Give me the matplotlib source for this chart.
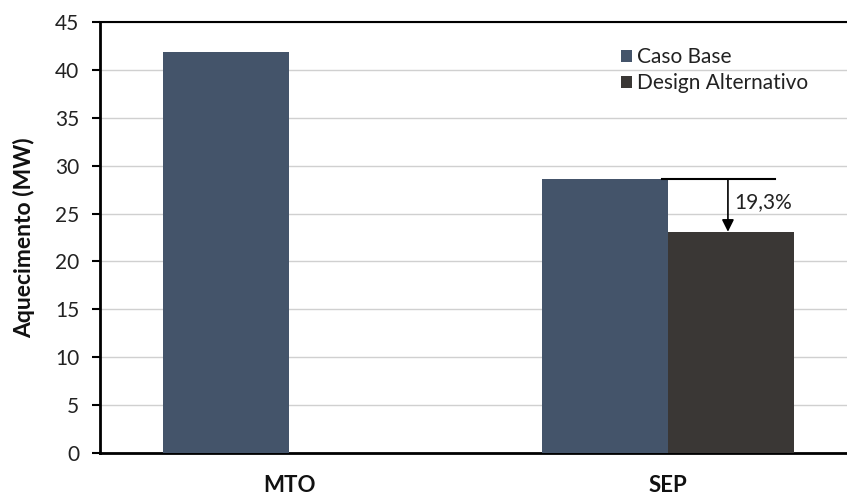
import matplotlib
matplotlib.use("Agg")
import matplotlib.pyplot as plt
import numpy as np

categories = ["MTO", "SEP"]
caso_base = [41.9, 28.6]
design_alt = [0.0, 23.1]
series_names = ["Caso Base", "Design Alternativo"]
reduction_label = "19,3%"

plt.rcParams['font.family'] = ['Lato', 'DejaVu Sans']

fig = plt.figure(figsize=(8.47, 4.95), dpi=100)
ax = fig.add_axes([100/847, (495-453)/495, (857-100)/847, (453-22)/495])

x = np.arange(len(categories))
w = 0.333
ax.bar(x - w/2, caso_base, w, color="#44546A", label=series_names[0], zorder=3)
ax.bar(x + w/2, design_alt, w, color="#3A3735", label=series_names[1], zorder=3)

ax.set_xlim(-0.5, 1.5)
ax.set_ylim(0, 45)
ax.set_yticks(np.arange(0, 46, 5))
ax.yaxis.grid(True, color="#d0d0d0", linewidth=1, zorder=0)
ax.set_axisbelow(True)
ax.set_xticks(x)
ax.set_xticklabels(categories, fontsize=16, fontweight="bold", color="#111111")
ax.tick_params(axis='x', length=0, pad=16)
ax.tick_params(axis='y', length=6, width=1.5, labelsize=15, pad=9, labelcolor="#222222")
ax.spines["right"].set_visible(False)
ax.spines["top"].set_linewidth(1.5)
ax.spines["left"].set_linewidth(2)
ax.spines["bottom"].set_linewidth(2)
ax.set_ylabel("Aquecimento (MW)", fontsize=16.5, fontweight="bold", labelpad=14, color="#111111")

# annotation
sep_base = caso_base[1]
sep_alt = design_alt[1]
ax.plot([0.984, 1.283], [sep_base, sep_base], color="black", linewidth=1.5, zorder=4)
ax.annotate("", xy=(1.159, sep_alt), xytext=(1.159, sep_base),
            arrowprops=dict(arrowstyle="-|>", color="black", linewidth=1.2,
                            mutation_scale=18, shrinkA=0, shrinkB=0), zorder=5)
ax.text(1.177, 26.2, reduction_label, fontsize=15,
        va="center", ha="left", color="#222222")

leg = ax.legend(loc="upper left", bbox_to_anchor=(0.663, 0.985), frameon=False,
                fontsize=15, handlelength=0.55, handleheight=0.55, handletextpad=0.25,
                labelspacing=0.3)
for t in leg.get_texts():
    t.set_color("#222222")

fig.savefig("out.png", dpi=100)
